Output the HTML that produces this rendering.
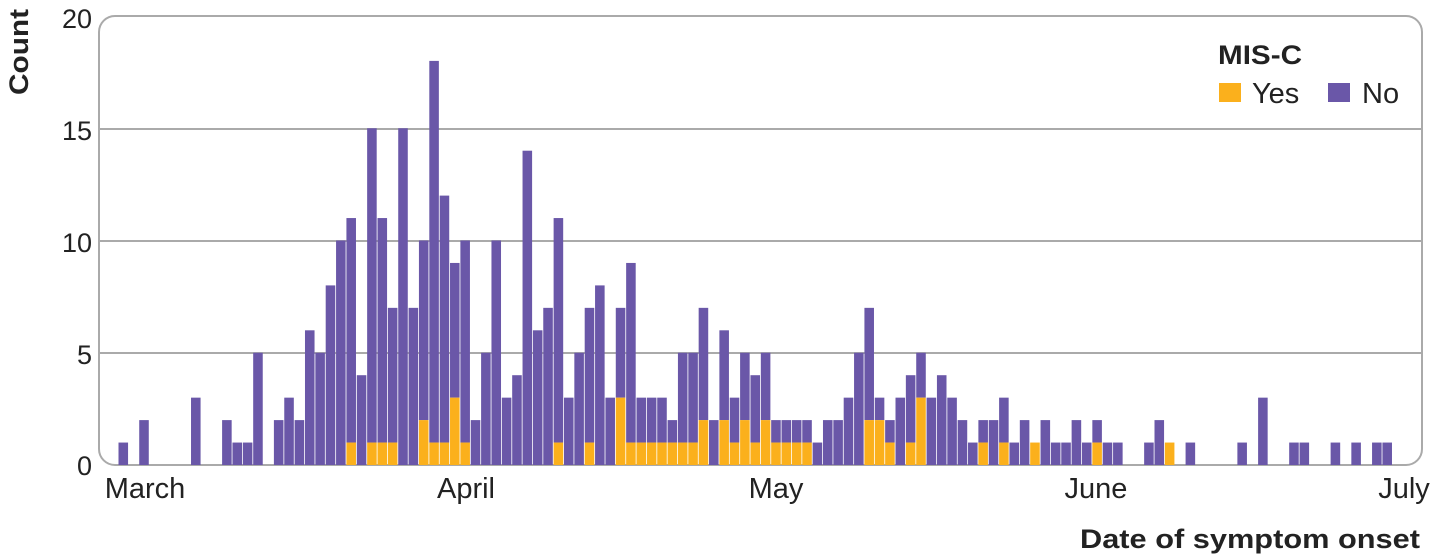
<!DOCTYPE html>
<html><head><meta charset="utf-8"><style>
body{margin:0;background:#fff;}
svg{display:block;font-family:"Liberation Sans","DejaVu Sans",sans-serif;}
</style></head><body>
<svg id="s" width="1431" height="557" viewBox="0 0 1431 557" xmlns="http://www.w3.org/2000/svg">
<rect x="99" y="16" width="1323" height="449" rx="16" ry="16" fill="#fff" stroke="#aaa" stroke-width="2"/>
<g stroke="#aaa" stroke-width="2">
<line x1="99" x2="1422" y1="129" y2="129"/>
<line x1="99" x2="1422" y1="241" y2="241"/>
<line x1="99" x2="1422" y1="353" y2="353"/>
</g>
<g id="bars"></g>
<g font-size="27" fill="#222" text-anchor="end">
<text x="92" y="28">20</text>
<text x="92" y="140">15</text>
<text x="92" y="252">10</text>
<text x="92" y="364">5</text>
<text x="92" y="475">0</text>
</g>
<text transform="translate(28,52) rotate(-90)" text-anchor="middle" font-size="27" font-weight="bold" fill="#222" textLength="86" lengthAdjust="spacingAndGlyphs">Count</text>
<g font-size="29" fill="#222" text-anchor="middle">
<text x="145" y="498">March</text>
<text x="466" y="498">April</text>
<text x="776" y="498">May</text>
<text x="1096" y="498">June</text>
<text x="1404" y="498">July</text>
</g>
<text x="1420" y="548" text-anchor="end" font-size="27" font-weight="bold" fill="#222" textLength="340" lengthAdjust="spacingAndGlyphs">Date of symptom onset</text>
<text x="1218" y="64" font-size="27" font-weight="bold" fill="#222" textLength="84" lengthAdjust="spacingAndGlyphs">MIS-C</text>
<rect x="1219" y="83" width="22" height="19" fill="#fbb01c"/>
<text x="1252" y="103" font-size="29" fill="#222">Yes</text>
<rect x="1328" y="83" width="22" height="19" fill="#6a57a8"/>
<text x="1362" y="103" font-size="29" fill="#222">No</text>
</svg>
<script>
var tot={0:1,2:2,7:3,10:2,11:1,12:1,13:5,15:2,16:3,17:2,18:6,19:5,20:8,21:10,22:11,23:4,24:15,25:11,26:7,27:15,28:7,29:10,30:18,31:12,32:9,33:10,34:2,35:5,36:10,37:3,38:4,39:14,40:6,41:7,42:11,43:3,44:5,45:7,46:8,47:3,48:7,49:9,50:3,51:3,52:3,53:2,54:5,55:5,56:7,57:2,58:6,59:3,60:5,61:4,62:5,63:2,64:2,65:2,66:2,67:1,68:2,69:2,70:3,71:5,72:7,73:3,74:2,75:3,76:4,77:5,78:3,79:4,80:3,81:2,82:1,83:2,84:2,85:3,86:1,87:2,88:1,89:2,90:1,91:1,92:2,93:1,94:2,95:1,96:1,99:1,100:2,101:1,103:1,108:1,110:3,113:1,114:1,117:1,119:1,121:1,122:1};
var yes={22:1,24:1,25:1,26:1,29:2,30:1,31:1,32:3,33:1,42:1,45:1,48:3,49:1,50:1,51:1,52:1,53:1,54:1,55:1,56:2,58:2,59:1,60:2,61:1,62:2,63:1,64:1,65:1,66:1,72:2,73:2,74:1,76:1,77:3,83:1,85:1,88:1,94:1,101:1};
var u=22.45,b=465,p=10.36,x0=118.5,h='';
for(var i in tot){var x=x0+p*i,t=tot[i],y=yes[i]||0;
h+='<rect x="'+x.toFixed(2)+'" y="'+(b-t*u).toFixed(2)+'" width="'+(p-0.8).toFixed(2)+'" height="'+((t-y)*u).toFixed(2)+'" fill="#6a57a8"/>';
if(y)h+='<rect x="'+x.toFixed(2)+'" y="'+(b-y*u).toFixed(2)+'" width="'+(p-0.8).toFixed(2)+'" height="'+(y*u).toFixed(2)+'" fill="#fbb01c"/>';}
document.getElementById('bars').innerHTML=h;
</script>
</body></html>
